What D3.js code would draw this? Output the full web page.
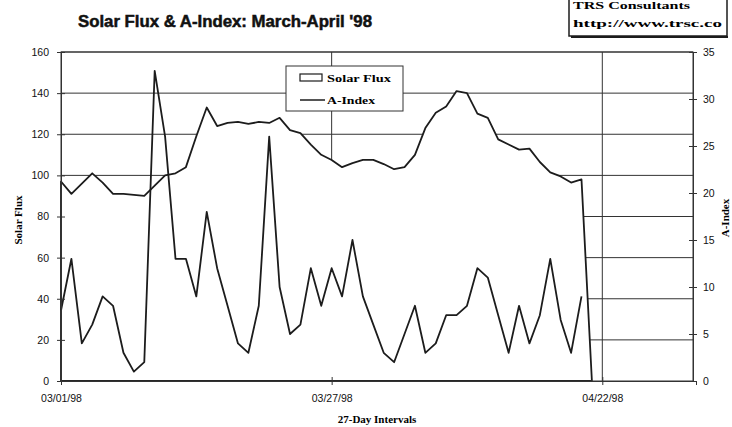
<!DOCTYPE html>
<html>
<head>
<meta charset="utf-8">
<script src="https://cdn.jsdelivr.net/npm/d3@7"></script>
<style>
body { margin: 0; background: #fff; }
svg { display: block; font-family: "Liberation Sans", Arial, sans-serif; }
.serif { font-family: "Liberation Serif", "Times New Roman", serif; font-weight: bold; }
</style>
</head>
<body>
<script>
const width = 732;
const height = 427;

// daily values starting 03/01/98
const startDate = "03/01/98";
const solarFlux = [97, 91, 96, 101, 96.5, 91, 91, 90.5, 90, 95, 100, 101, 104, 119, 133,
  124, 125.5, 126, 125, 126, 125.5, 128, 122, 120.5, 115, 110, 107.5, 104, 106,
  107.5, 107.5, 105.5, 103, 104, 110, 123, 130.5, 133.5, 141, 140, 130, 128, 117.5,
  115, 112.5, 113, 106.5, 101.5, 99.5, 96.5, 98, 0];
const aIndex = [7.5, 13, 4, 6, 9, 8, 3, 1, 2, 33, 26, 13, 13, 9, 18, 12, 8, 4, 3, 8,
  26, 10, 5, 6, 12, 8, 12, 9, 15, 9, 6, 3, 2, 5, 8, 3, 4, 7, 7, 8, 12, 11, 7, 3, 8,
  4, 7, 13, 6.5, 3, 9];
const fluxTicks = [0, 20, 40, 60, 80, 100, 120, 140, 160];
const aTicks = [0, 5, 10, 15, 20, 25, 30, 35];
const dateTicks = ["03/01/98", "03/27/98", "04/22/98"];
const seriesNames = ["Solar Flux", "A-Index"];

const parse = d3.utcParse("%m/%d/%y");
const fmt = d3.utcFormat("%m/%d/%y");
const d0 = parse(startDate);

const pLeft = 61, pRight = 693, pTop = 52, pBottom = 381;

const x = d3.scaleUtc().domain([d0, d3.utcDay.offset(d0, 61)]).range([pLeft, 696]);
const y = d3.scaleLinear().domain([0, 160]).range([pBottom, pTop]);
const y2 = d3.scaleLinear().domain([0, 35]).range([pBottom, pTop]);

const fluxData = solarFlux.map((v, i) => ({date: d3.utcDay.offset(d0, i), v}));
const aData = aIndex.map((v, i) => ({date: d3.utcDay.offset(d0, i), v}));

const svg = d3.select("body").append("svg").attr("width", width).attr("height", height);
svg.append("rect").attr("width", width).attr("height", height).attr("fill", "#fff");

const ink = "#1c1c1c";

// gridlines
svg.append("g").selectAll("line").data(fluxTicks.slice(1)).join("line")
  .attr("x1", pLeft).attr("x2", pRight)
  .attr("y1", d => y(d)).attr("y2", d => y(d))
  .attr("stroke", "#333").attr("stroke-width", 1);
svg.append("g").selectAll("line").data(dateTicks.slice(1)).join("line")
  .attr("x1", d => x(parse(d))).attr("x2", d => x(parse(d)))
  .attr("y1", pTop).attr("y2", pBottom)
  .attr("stroke", "#333").attr("stroke-width", 1);

// solar flux area (white fill hides the grid)
const area = d3.area().x(d => x(d.date)).y0(y(0)).y1(d => y(d.v));
svg.append("path").datum(fluxData).attr("d", area)
  .attr("fill", "#fff").attr("stroke", ink).attr("stroke-width", 1.8)
  .attr("stroke-linejoin", "round");

// A-index line
const line = d3.line().x(d => x(d.date)).y(d => y2(d.v));
svg.append("path").datum(aData).attr("d", line)
  .attr("fill", "none").attr("stroke", ink).attr("stroke-width", 1.8)
  .attr("stroke-linejoin", "round");

// frame
svg.append("rect").attr("x", pLeft).attr("y", pTop)
  .attr("width", pRight - pLeft).attr("height", pBottom - pTop)
  .attr("fill", "none").attr("stroke", "#333").attr("stroke-width", 1);

// axes
const gl = svg.append("g").attr("transform", `translate(${pLeft},0)`)
  .call(d3.axisLeft(y).tickValues(fluxTicks).tickSize(4).tickPadding(8));
gl.selectAll(".tick line").attr("x2", 4).attr("x1", -4);
const gr = svg.append("g").attr("transform", `translate(${pRight},0)`)
  .call(d3.axisRight(y2).tickValues(aTicks).tickSize(4).tickPadding(6));
gr.selectAll(".tick line").attr("x1", -4).attr("x2", 4);
const gb = svg.append("g").attr("transform", `translate(0,${pBottom})`)
  .call(d3.axisBottom(x).tickValues(dateTicks.map(parse)).tickFormat(fmt).tickSize(4).tickPadding(10));
gb.selectAll(".tick line").attr("y1", -4).attr("y2", 4);

[gl, gr, gb].forEach(g => {
  g.select(".domain").attr("stroke", "#333");
  g.selectAll(".tick line").attr("stroke", "#333");
  g.selectAll("text").attr("font-size", 10.5).attr("fill", "#111")
    .attr("font-family", "\"Liberation Sans\", Arial, sans-serif");
});

// titles
svg.append("text").attr("x", 78).attr("y", 27)
  .attr("font-size", 16).attr("font-weight", "bold").attr("fill", "#111")
  .attr("stroke", "#111").attr("stroke-width", 0.5)
  .attr("textLength", 294).attr("lengthAdjust", "spacingAndGlyphs")
  .text("Solar Flux & A-Index: March-April '98");

svg.append("text").attr("class", "serif").attr("font-size", 11)
  .attr("transform", `translate(22,220) rotate(-90)`).attr("text-anchor", "middle")
  .text("Solar Flux");
svg.append("text").attr("class", "serif").attr("font-size", 11)
  .attr("transform", `translate(729,218) rotate(-90)`).attr("text-anchor", "middle")
  .text("A-Index");
svg.append("text").attr("class", "serif").attr("font-size", 11)
  .attr("x", 377).attr("y", 423).attr("text-anchor", "middle")
  .text("27-Day Intervals");

// corner box
const box = svg.append("g");
box.append("rect").attr("x", 569).attr("y", -4).attr("width", 158).attr("height", 40)
  .attr("fill", "#fff").attr("stroke", ink).attr("stroke-width", 1.5);
box.append("line").attr("x1", 571).attr("x2", 728).attr("y1", 37).attr("y2", 37)
  .attr("stroke", ink).attr("stroke-width", 2);
box.append("text").attr("class", "serif").attr("x", 573).attr("y", 9)
  .attr("font-size", 10.5).attr("textLength", 117).attr("lengthAdjust", "spacingAndGlyphs")
  .text("TRS Consultants");
box.append("text").attr("class", "serif").attr("x", 573).attr("y", 27)
  .attr("font-size", 10.5).attr("textLength", 149).attr("lengthAdjust", "spacingAndGlyphs")
  .text("http://www.trsc.co");

// legend
const lg = svg.append("g").attr("transform", "translate(286,66)");
lg.append("rect").attr("width", 117).attr("height", 45)
  .attr("fill", "#fff").attr("stroke", "#333").attr("stroke-width", 1);
const items = lg.selectAll("g").data(seriesNames).join("g")
  .attr("transform", (d, i) => `translate(0,${12 + i * 22})`);
items.filter((d, i) => i === 0).append("rect")
  .attr("x", 14).attr("y", -4).attr("width", 22).attr("height", 7)
  .attr("fill", "#fff").attr("stroke", ink).attr("stroke-width", 1.2);
items.filter((d, i) => i === 1).append("line")
  .attr("x1", 14).attr("x2", 39).attr("y1", 0).attr("y2", 0)
  .attr("stroke", ink).attr("stroke-width", 1.5);
items.append("text").attr("class", "serif").attr("x", 41).attr("y", 4)
  .attr("font-size", 11)
  .attr("textLength", (d, i) => i ? 48 : 64).attr("lengthAdjust", "spacingAndGlyphs")
  .text(d => d);
</script>
</body>
</html>
